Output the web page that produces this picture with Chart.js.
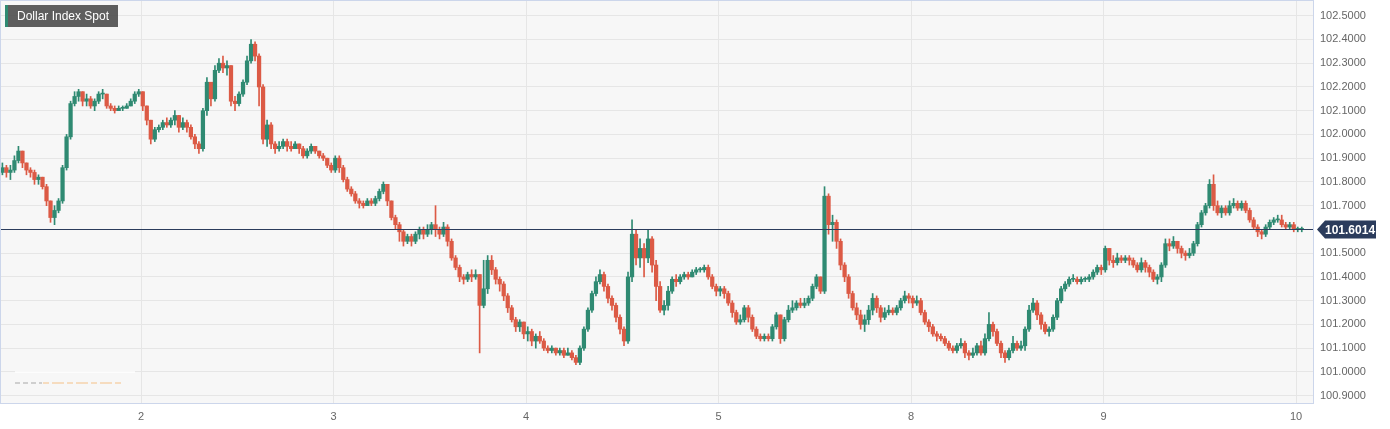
<!DOCTYPE html>
<html>
<head>
<meta charset="utf-8">
<title>Dollar Index Spot</title>
<script src="https://cdn.jsdelivr.net/npm/chart.js@4.4.1/dist/chart.umd.min.js"></script>
<style>
	html, body { margin: 0; padding: 0; background: #ffffff; }
	#wrap { position: relative; width: 1390px; height: 429px; }
</style>
</head>
<body>
<div id="wrap"><canvas id="dxyChart"></canvas></div>
<script>
// half-hour candles, day axis = trading day index (0 = the 1st)
var chartTitle = 'Dollar Index Spot';
var dayTicks = [ 1, 2, 3, 4, 5, 6, 7 ];
var dayLabels = [ '2', '3', '4', '5', '8', '9', '10' ];
var priceTicks = [ 100.9, 101.0, 101.1, 101.2, 101.3, 101.4, 101.5, 101.6,
		101.7, 101.8, 101.9, 102.0, 102.1, 102.2, 102.3, 102.4, 102.5 ];
var candleStart = 0.28;
var candleStep = 1 / 48;
var firstOpen = 101.84;
var lastPrice = 101.6014;

var closes = [
	101.86, 101.84, 101.85, 101.89, 101.93, 101.88, 101.85, 101.84, 101.81, 101.82,
	101.78, 101.72, 101.65, 101.68, 101.72, 101.86, 101.99, 102.13, 102.16, 102.18,
	102.14, 102.15, 102.12, 102.14, 102.17, 102.17, 102.12, 102.11, 102.10, 102.11,
	102.11, 102.12, 102.14, 102.17, 102.18, 102.12, 102.06, 101.98, 102.02, 102.03,
	102.05, 102.04, 102.06, 102.08, 102.03, 102.05, 102.03, 101.99, 101.96, 101.94,
	102.10, 102.22, 102.15, 102.27, 102.30, 102.28, 102.29, 102.14, 102.13, 102.17,
	102.22, 102.31, 102.38, 102.33, 102.20, 101.98, 102.04, 101.96, 101.94, 101.95,
	101.97, 101.95, 101.94, 101.96, 101.94, 101.91, 101.93, 101.95, 101.93, 101.91,
	101.90, 101.87, 101.85, 101.90, 101.86, 101.81, 101.77, 101.75, 101.72, 101.71,
	101.70, 101.72, 101.71, 101.73, 101.76, 101.79, 101.72, 101.65, 101.62, 101.59,
	101.55, 101.57, 101.55, 101.58, 101.60, 101.58, 101.60, 101.62, 101.60, 101.58,
	101.61, 101.55, 101.48, 101.44, 101.40, 101.39, 101.41, 101.40, 101.41, 101.28,
	101.35, 101.47, 101.43, 101.39, 101.37, 101.32, 101.27, 101.22, 101.19, 101.21,
	101.16, 101.17, 101.13, 101.15, 101.13, 101.10, 101.09, 101.10, 101.08, 101.09,
	101.07, 101.08, 101.06, 101.04, 101.10, 101.18, 101.26, 101.33, 101.38, 101.41,
	101.36, 101.31, 101.28, 101.23, 101.18, 101.13, 101.40, 101.58, 101.48, 101.52,
	101.48, 101.56, 101.45, 101.36, 101.26, 101.28, 101.34, 101.39, 101.38, 101.40,
	101.41, 101.40, 101.42, 101.43, 101.43, 101.44, 101.40, 101.36, 101.34, 101.35,
	101.33, 101.29, 101.25, 101.21, 101.22, 101.27, 101.23, 101.18, 101.15, 101.14,
	101.15, 101.14, 101.19, 101.24, 101.14, 101.22, 101.26, 101.27, 101.29, 101.28,
	101.29, 101.31, 101.36, 101.40, 101.34, 101.74, 101.62, 101.63, 101.55, 101.45,
	101.40, 101.33, 101.27, 101.24, 101.20, 101.22, 101.26, 101.31, 101.27, 101.23,
	101.25, 101.26, 101.25, 101.27, 101.30, 101.32, 101.31, 101.29, 101.30, 101.25,
	101.21, 101.19, 101.16, 101.15, 101.14, 101.12, 101.10, 101.09, 101.11, 101.12,
	101.08, 101.07, 101.08, 101.11, 101.08, 101.14, 101.20, 101.17, 101.12, 101.08,
	101.06, 101.09, 101.12, 101.10, 101.11, 101.18, 101.26, 101.29, 101.24, 101.20,
	101.17, 101.18, 101.23, 101.30, 101.35, 101.37, 101.39, 101.39, 101.38, 101.39,
	101.39, 101.40, 101.42, 101.44, 101.43, 101.52, 101.47, 101.46, 101.48, 101.47,
	101.48, 101.47, 101.45, 101.43, 101.46, 101.44, 101.42, 101.39, 101.40, 101.45,
	101.54, 101.53, 101.55, 101.52, 101.50, 101.49, 101.50, 101.54, 101.62, 101.67,
	101.70, 101.79, 101.70, 101.67, 101.69, 101.67, 101.70, 101.71, 101.69, 101.71,
	101.68, 101.64, 101.61, 101.59, 101.58, 101.61, 101.63, 101.64, 101.64, 101.62,
	101.61, 101.62, 101.60, 101.60, 101.6014 ];

var highs = [
	101.88, 101.87, 101.87, 101.91, 101.95, 101.93, 101.88, 101.86, 101.85, 101.83,
	101.82, 101.79, 101.72, 101.70, 101.73, 101.87, 102.00, 102.14, 102.18, 102.19,
	102.18, 102.17, 102.16, 102.15, 102.18, 102.19, 102.17, 102.13, 102.12, 102.12,
	102.12, 102.13, 102.15, 102.18, 102.19, 102.18, 102.12, 102.06, 102.03, 102.04,
	102.06, 102.07, 102.07, 102.10, 102.08, 102.07, 102.06, 102.04, 102.00, 101.97,
	102.11, 102.24, 102.22, 102.29, 102.32, 102.33, 102.31, 102.29, 102.16, 102.18,
	102.23, 102.33, 102.40, 102.39, 102.34, 102.21, 102.06, 102.05, 101.97, 101.97,
	101.98, 101.98, 101.97, 101.97, 101.96, 101.95, 101.94, 101.96, 101.95, 101.93,
	101.92, 101.90, 101.88, 101.91, 101.91, 101.87, 101.82, 101.78, 101.76, 101.73,
	101.72, 101.73, 101.73, 101.74, 101.77, 101.80, 101.79, 101.72, 101.66, 101.63,
	101.60, 101.58, 101.58, 101.59, 101.61, 101.61, 101.62, 101.63, 101.70, 101.61,
	101.63, 101.62, 101.56, 101.49, 101.45, 101.41, 101.42, 101.43, 101.43, 101.41,
	101.47, 101.49, 101.49, 101.44, 101.40, 101.38, 101.33, 101.28, 101.23, 101.22,
	101.21, 101.19, 101.18, 101.16, 101.17, 101.14, 101.11, 101.11, 101.10, 101.10,
	101.10, 101.10, 101.09, 101.07, 101.11, 101.19, 101.27, 101.34, 101.40, 101.43,
	101.42, 101.37, 101.32, 101.29, 101.24, 101.19, 101.42, 101.64, 101.60, 101.56,
	101.54, 101.60, 101.57, 101.47, 101.38, 101.30, 101.36, 101.40, 101.41, 101.41,
	101.42, 101.42, 101.43, 101.44, 101.44, 101.45, 101.45, 101.41, 101.37, 101.36,
	101.36, 101.34, 101.30, 101.26, 101.24, 101.28, 101.28, 101.24, 101.19, 101.16,
	101.16, 101.16, 101.20, 101.25, 101.24, 101.23, 101.28, 101.30, 101.30, 101.31,
	101.31, 101.32, 101.37, 101.41, 101.40, 101.78, 101.75, 101.66, 101.64, 101.56,
	101.46, 101.41, 101.34, 101.29, 101.26, 101.24, 101.28, 101.33, 101.32, 101.28,
	101.27, 101.28, 101.27, 101.28, 101.31, 101.34, 101.33, 101.32, 101.32, 101.31,
	101.26, 101.22, 101.20, 101.17, 101.16, 101.15, 101.13, 101.11, 101.12, 101.14,
	101.13, 101.09, 101.10, 101.12, 101.13, 101.16, 101.25, 101.21, 101.18, 101.13,
	101.09, 101.10, 101.15, 101.13, 101.13, 101.19, 101.28, 101.31, 101.30, 101.25,
	101.21, 101.19, 101.24, 101.31, 101.36, 101.38, 101.40, 101.41, 101.40, 101.40,
	101.40, 101.41, 101.43, 101.45, 101.45, 101.53, 101.52, 101.49, 101.50, 101.49,
	101.49, 101.49, 101.48, 101.46, 101.48, 101.47, 101.45, 101.43, 101.41, 101.46,
	101.56, 101.56, 101.57, 101.55, 101.53, 101.51, 101.52, 101.55, 101.63, 101.68,
	101.71, 101.81, 101.83, 101.72, 101.70, 101.70, 101.72, 101.73, 101.72, 101.72,
	101.72, 101.69, 101.65, 101.62, 101.60, 101.62, 101.64, 101.65, 101.66, 101.66,
	101.63, 101.63, 101.63, 101.61, 101.61 ];

var lows = [
	101.83, 101.82, 101.81, 101.84, 101.88, 101.86, 101.83, 101.82, 101.79, 101.79,
	101.77, 101.70, 101.63, 101.62, 101.67, 101.71, 101.85, 101.98, 102.12, 102.14,
	102.12, 102.12, 102.11, 102.10, 102.13, 102.15, 102.11, 102.10, 102.09, 102.10,
	102.10, 102.11, 102.12, 102.13, 102.16, 102.10, 102.04, 101.96, 101.97, 102.01,
	102.02, 102.03, 102.03, 102.04, 102.01, 102.02, 102.01, 101.98, 101.94, 101.92,
	101.93, 102.08, 102.12, 102.14, 102.26, 102.26, 102.25, 102.12, 102.10, 102.12,
	102.16, 102.21, 102.30, 102.31, 102.12, 101.96, 101.95, 101.94, 101.92, 101.93,
	101.94, 101.93, 101.93, 101.94, 101.92, 101.90, 101.90, 101.92, 101.92, 101.90,
	101.89, 101.86, 101.84, 101.84, 101.84, 101.80, 101.76, 101.74, 101.71, 101.69,
	101.69, 101.70, 101.70, 101.70, 101.72, 101.75, 101.70, 101.64, 101.60, 101.55,
	101.53, 101.54, 101.53, 101.54, 101.56, 101.56, 101.57, 101.58, 101.57, 101.56,
	101.57, 101.53, 101.47, 101.43, 101.38, 101.37, 101.38, 101.38, 101.39, 101.08,
	101.27, 101.33, 101.41, 101.37, 101.34, 101.30, 101.25, 101.21, 101.17, 101.17,
	101.14, 101.13, 101.11, 101.10, 101.12, 101.09, 101.08, 101.08, 101.07, 101.07,
	101.06, 101.07, 101.05, 101.03, 101.03, 101.09, 101.17, 101.25, 101.32, 101.37,
	101.34, 101.29, 101.26, 101.21, 101.16, 101.11, 101.12, 101.38, 101.45, 101.44,
	101.40, 101.46, 101.42, 101.30, 101.25, 101.24, 101.26, 101.33, 101.36, 101.37,
	101.39, 101.39, 101.40, 101.41, 101.42, 101.42, 101.39, 101.35, 101.32, 101.32,
	101.31, 101.28, 101.23, 101.20, 101.20, 101.21, 101.21, 101.17, 101.14, 101.13,
	101.13, 101.13, 101.13, 101.18, 101.12, 101.13, 101.21, 101.25, 101.26, 101.27,
	101.27, 101.28, 101.30, 101.35, 101.33, 101.33, 101.58, 101.55, 101.52, 101.43,
	101.38, 101.31, 101.26, 101.22, 101.18, 101.17, 101.20, 101.24, 101.25, 101.21,
	101.22, 101.24, 101.24, 101.24, 101.26, 101.29, 101.29, 101.27, 101.28, 101.24,
	101.20, 101.17, 101.15, 101.13, 101.13, 101.11, 101.09, 101.08, 101.08, 101.10,
	101.06, 101.05, 101.06, 101.07, 101.07, 101.07, 101.13, 101.15, 101.11, 101.06,
	101.04, 101.05, 101.08, 101.09, 101.09, 101.09, 101.17, 101.25, 101.22, 101.18,
	101.16, 101.15, 101.17, 101.22, 101.29, 101.34, 101.36, 101.38, 101.37, 101.37,
	101.38, 101.38, 101.39, 101.41, 101.41, 101.42, 101.45, 101.44, 101.45, 101.46,
	101.46, 101.45, 101.44, 101.42, 101.42, 101.42, 101.40, 101.38, 101.37, 101.38,
	101.44, 101.51, 101.52, 101.50, 101.48, 101.47, 101.48, 101.49, 101.53, 101.61,
	101.66, 101.69, 101.68, 101.66, 101.65, 101.66, 101.66, 101.69, 101.68, 101.68,
	101.67, 101.63, 101.60, 101.57, 101.56, 101.57, 101.60, 101.62, 101.63, 101.61,
	101.60, 101.60, 101.59, 101.59, 101.59 ];

(function() {
	'use strict';
	var upColor = '#2f8a72';
	var downColor = '#dc5a45';
	var navy = '#2b3c5c';
	var xMin = 1 - 140 / 192.5;
	var xMax = 1 + 1172 / 192.5;

	var bodies = [];
	var wicks = [];
	var colors = [];
	for (var i = 0; i < closes.length; i++) {
		var o = i == 0 ? firstOpen : closes[i - 1];
		var x = candleStart + i * candleStep;
		bodies.push({ x : x, y : [ o, closes[i] ] });
		wicks.push({ x : x, y : [ lows[i], highs[i] ] });
		colors.push(closes[i] >= o ? upColor : downColor);
	}

	// no label overhang padding, the plot area must sit at fixed pixels
	function noPadding(scale) {
		scale.paddingTop = 0;
		scale.paddingBottom = 0;
		scale.paddingLeft = 0;
		scale.paddingRight = 0;
	}

	var decorPlugin = {
		id : 'decor',
		beforeDraw : function(chart) {
			var ctx = chart.ctx, a = chart.chartArea;
			ctx.save();
			ctx.fillStyle = '#f7f7f7';
			ctx.fillRect(a.left, a.top, a.right - a.left, a.bottom - a.top);
			ctx.restore();
		},
		beforeDatasetsDraw : function(chart) {
			// faint leftovers of the navigator series, bottom left
			var ctx = chart.ctx;
			ctx.save();
			ctx.fillStyle = 'rgba(255,255,255,0.7)';
			ctx.fillRect(15, 371, 120, 2);
			ctx.lineWidth = 2;
			ctx.setLineDash([ 5, 3 ]);
			ctx.strokeStyle = '#cfcfcf';
			ctx.beginPath();
			ctx.moveTo(15, 383);
			ctx.lineTo(42, 383);
			ctx.stroke();
			ctx.strokeStyle = '#f6dcbf';
			ctx.setLineDash([ 6, 3, 12, 3 ]);
			ctx.beginPath();
			ctx.moveTo(43, 383);
			ctx.lineTo(121, 383);
			ctx.stroke();
			ctx.restore();
		},
		afterDatasetsDraw : function(chart) {
			var ctx = chart.ctx, a = chart.chartArea;
			var y = Math.round(chart.scales.y.getPixelForValue(lastPrice)) + 0.5;
			ctx.save();
			ctx.strokeStyle = navy;
			ctx.lineWidth = 1;
			ctx.beginPath();
			ctx.moveTo(a.left, y);
			ctx.lineTo(a.right, y);
			ctx.stroke();
			// plot frame
			ctx.strokeStyle = '#ccd6eb';
			ctx.strokeRect(a.left - 0.5, a.top - 0.5, a.right - a.left + 1,
					a.bottom - a.top + 1);
			ctx.restore();
		},
		afterDraw : function(chart) {
			var ctx = chart.ctx, a = chart.chartArea;
			var y = Math.round(chart.scales.y.getPixelForValue(lastPrice)) + 0.5;
			ctx.save();
			// last price tag
			ctx.fillStyle = navy;
			ctx.beginPath();
			ctx.moveTo(a.right + 4, y);
			ctx.lineTo(a.right + 12, y - 9);
			ctx.lineTo(a.right + 63, y - 9);
			ctx.lineTo(a.right + 63, y + 9);
			ctx.lineTo(a.right + 12, y + 9);
			ctx.closePath();
			ctx.fill();
			ctx.fillStyle = '#ffffff';
			ctx.font = 'bold 12px "Liberation Sans", Arial, sans-serif';
			ctx.textBaseline = 'middle';
			ctx.fillText(lastPrice.toFixed(4), a.right + 12, y + 1);
			// title box
			ctx.fillStyle = 'rgba(80,80,80,0.92)';
			ctx.fillRect(5, 5, 113, 22);
			ctx.fillStyle = upColor;
			ctx.fillRect(5, 5, 3, 22);
			ctx.fillStyle = '#ffffff';
			ctx.font = '12px "Liberation Sans", Arial, sans-serif';
			ctx.fillText(chartTitle, 17, 16.5);
			ctx.restore();
		}
	};

	Chart.defaults.font.family = '"Liberation Sans", Arial, sans-serif';
	Chart.defaults.font.size = 11;
	Chart.defaults.color = '#666666';

	var ctx = document.getElementById('dxyChart');
	new Chart(ctx, {
		type : 'bar',
		data : {
			datasets : [ {
				label : 'wick',
				data : wicks,
				backgroundColor : colors,
				barThickness : 1,
				grouped : false,
				order : 2
			}, {
				label : 'body',
				data : bodies,
				backgroundColor : colors,
				barThickness : 3.6,
				minBarLength : 1,
				grouped : false,
				order : 1
			} ]
		},
		options : {
			responsive : true,
			maintainAspectRatio : false,
			animation : false,
			events : [],
			layout : {
				padding : { left : 1, top : 1, right : 0, bottom : 0 }
			},
			plugins : {
				legend : { display : false },
				tooltip : { enabled : false },
				title : { display : false }
			},
			scales : {
				x : {
					type : 'linear',
					min : xMin,
					max : xMax,
					offset : false,
					border : { display : false },
					grid : {
						color : '#e6e6e6',
						drawTicks : false,
						offset : false
					},
					ticks : {
						padding : 7,
						maxRotation : 0,
						callback : function(value) {
							var k = dayTicks.indexOf(value);
							return k < 0 ? '' : dayLabels[k];
						}
					},
					afterBuildTicks : function(scale) {
						scale.ticks = dayTicks.map(function(v) {
							return { value : v };
						});
					},
					afterFit : function(scale) {
						scale.height = 26;
						noPadding(scale);
					}
				},
				y : {
					type : 'linear',
					position : 'right',
					min : 100.869,
					max : 102.562,
					border : { display : false },
					grid : {
						color : '#e6e6e6',
						drawTicks : false
					},
					ticks : {
						padding : 7,
						callback : function(value) {
							return value.toFixed(4);
						}
					},
					afterBuildTicks : function(scale) {
						scale.ticks = priceTicks.map(function(v) {
							return { value : v };
						});
					},
					afterFit : function(scale) {
						scale.width = 77;
						noPadding(scale);
					}
				}
			}
		},
		plugins : [ decorPlugin ]
	});
})();
</script>
</body>
</html>
